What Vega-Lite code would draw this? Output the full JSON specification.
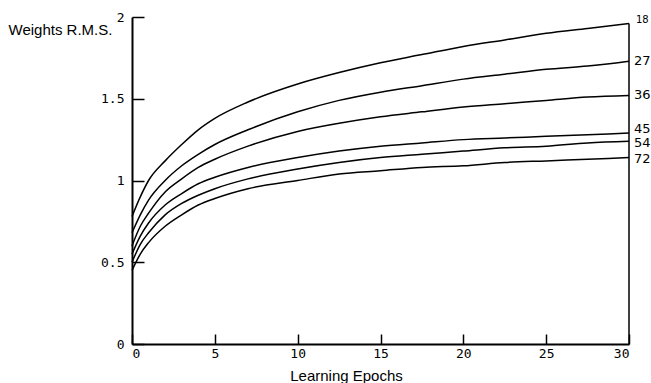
{
  "$schema": "https://vega.github.io/schema/vega-lite/v6.json",
  "width": 497,
  "height": 327,
  "autosize": {"type": "none"},
  "padding": {"left": 132, "top": 17, "right": 22, "bottom": 39},
  "background": "white",
  "config": {"view": {"stroke": null}},
  "datasets": {
    "curves": [
      {"epoch": 0, "w": 0.78, "units": "18"}, {"epoch": 0.5, "w": 0.9, "units": "18"}, {"epoch": 1, "w": 1.0, "units": "18"}, {"epoch": 2, "w": 1.12, "units": "18"}, {"epoch": 3, "w": 1.22, "units": "18"}, {"epoch": 4, "w": 1.31, "units": "18"}, {"epoch": 5, "w": 1.38, "units": "18"}, {"epoch": 7, "w": 1.48, "units": "18"}, {"epoch": 10, "w": 1.59, "units": "18"}, {"epoch": 12.5, "w": 1.66, "units": "18"}, {"epoch": 15, "w": 1.72, "units": "18"}, {"epoch": 17.5, "w": 1.77, "units": "18"}, {"epoch": 20, "w": 1.82, "units": "18"}, {"epoch": 22.5, "w": 1.86, "units": "18"}, {"epoch": 25, "w": 1.9, "units": "18"}, {"epoch": 27.5, "w": 1.93, "units": "18"}, {"epoch": 30, "w": 1.96, "units": "18"},
      {"epoch": 0, "w": 0.68, "units": "27"}, {"epoch": 0.5, "w": 0.79, "units": "27"}, {"epoch": 1, "w": 0.88, "units": "27"}, {"epoch": 2, "w": 1.0, "units": "27"}, {"epoch": 3, "w": 1.09, "units": "27"}, {"epoch": 4, "w": 1.16, "units": "27"}, {"epoch": 5, "w": 1.22, "units": "27"}, {"epoch": 7, "w": 1.31, "units": "27"}, {"epoch": 10, "w": 1.42, "units": "27"}, {"epoch": 12.5, "w": 1.49, "units": "27"}, {"epoch": 15, "w": 1.54, "units": "27"}, {"epoch": 17.5, "w": 1.58, "units": "27"}, {"epoch": 20, "w": 1.62, "units": "27"}, {"epoch": 22.5, "w": 1.65, "units": "27"}, {"epoch": 25, "w": 1.68, "units": "27"}, {"epoch": 27.5, "w": 1.7, "units": "27"}, {"epoch": 30, "w": 1.73, "units": "27"},
      {"epoch": 0, "w": 0.6, "units": "36"}, {"epoch": 0.5, "w": 0.72, "units": "36"}, {"epoch": 1, "w": 0.8, "units": "36"}, {"epoch": 2, "w": 0.93, "units": "36"}, {"epoch": 3, "w": 1.01, "units": "36"}, {"epoch": 4, "w": 1.08, "units": "36"}, {"epoch": 5, "w": 1.13, "units": "36"}, {"epoch": 7, "w": 1.21, "units": "36"}, {"epoch": 10, "w": 1.3, "units": "36"}, {"epoch": 12.5, "w": 1.35, "units": "36"}, {"epoch": 15, "w": 1.39, "units": "36"}, {"epoch": 17.5, "w": 1.42, "units": "36"}, {"epoch": 20, "w": 1.45, "units": "36"}, {"epoch": 22.5, "w": 1.47, "units": "36"}, {"epoch": 25, "w": 1.49, "units": "36"}, {"epoch": 27.5, "w": 1.51, "units": "36"}, {"epoch": 30, "w": 1.52, "units": "36"},
      {"epoch": 0, "w": 0.55, "units": "45"}, {"epoch": 0.5, "w": 0.66, "units": "45"}, {"epoch": 1, "w": 0.74, "units": "45"}, {"epoch": 2, "w": 0.85, "units": "45"}, {"epoch": 3, "w": 0.92, "units": "45"}, {"epoch": 4, "w": 0.98, "units": "45"}, {"epoch": 5, "w": 1.02, "units": "45"}, {"epoch": 7, "w": 1.08, "units": "45"}, {"epoch": 10, "w": 1.14, "units": "45"}, {"epoch": 12.5, "w": 1.18, "units": "45"}, {"epoch": 15, "w": 1.21, "units": "45"}, {"epoch": 17.5, "w": 1.23, "units": "45"}, {"epoch": 20, "w": 1.25, "units": "45"}, {"epoch": 22.5, "w": 1.26, "units": "45"}, {"epoch": 25, "w": 1.27, "units": "45"}, {"epoch": 27.5, "w": 1.28, "units": "45"}, {"epoch": 30, "w": 1.29, "units": "45"},
      {"epoch": 0, "w": 0.5, "units": "54"}, {"epoch": 0.5, "w": 0.61, "units": "54"}, {"epoch": 1, "w": 0.68, "units": "54"}, {"epoch": 2, "w": 0.79, "units": "54"}, {"epoch": 3, "w": 0.86, "units": "54"}, {"epoch": 4, "w": 0.91, "units": "54"}, {"epoch": 5, "w": 0.95, "units": "54"}, {"epoch": 7, "w": 1.01, "units": "54"}, {"epoch": 10, "w": 1.07, "units": "54"}, {"epoch": 12.5, "w": 1.11, "units": "54"}, {"epoch": 15, "w": 1.14, "units": "54"}, {"epoch": 17.5, "w": 1.16, "units": "54"}, {"epoch": 20, "w": 1.18, "units": "54"}, {"epoch": 22.5, "w": 1.2, "units": "54"}, {"epoch": 25, "w": 1.21, "units": "54"}, {"epoch": 27.5, "w": 1.23, "units": "54"}, {"epoch": 30, "w": 1.24, "units": "54"},
      {"epoch": 0, "w": 0.45, "units": "72"}, {"epoch": 0.5, "w": 0.55, "units": "72"}, {"epoch": 1, "w": 0.62, "units": "72"}, {"epoch": 2, "w": 0.72, "units": "72"}, {"epoch": 3, "w": 0.79, "units": "72"}, {"epoch": 4, "w": 0.85, "units": "72"}, {"epoch": 5, "w": 0.89, "units": "72"}, {"epoch": 7, "w": 0.95, "units": "72"}, {"epoch": 10, "w": 1.0, "units": "72"}, {"epoch": 12.5, "w": 1.04, "units": "72"}, {"epoch": 15, "w": 1.06, "units": "72"}, {"epoch": 17.5, "w": 1.08, "units": "72"}, {"epoch": 20, "w": 1.09, "units": "72"}, {"epoch": 22.5, "w": 1.11, "units": "72"}, {"epoch": 25, "w": 1.12, "units": "72"}, {"epoch": 27.5, "w": 1.13, "units": "72"}, {"epoch": 30, "w": 1.14, "units": "72"}
    ],
    "labels": [
      {"epoch": 30, "ly": 1.98, "units": "18"},
      {"epoch": 30, "ly": 1.73, "units": "27"},
      {"epoch": 30, "ly": 1.52, "units": "36"},
      {"epoch": 30, "ly": 1.315, "units": "45"},
      {"epoch": 30, "ly": 1.23, "units": "54"},
      {"epoch": 30, "ly": 1.13, "units": "72"}
    ],
    "border": [{"epoch": 30, "lo": 0, "hi": 1.96}]
  },
  "layer": [
    {
      "data": {"name": "curves"},
      "mark": {"type": "line", "color": "black", "strokeWidth": 1.5, "interpolate": "monotone"},
      "encoding": {
        "x": {
          "field": "epoch", "type": "quantitative",
          "scale": {"domain": [0, 30], "nice": false},
          "axis": {
            "values": [0, 5, 10, 15, 20, 25, 30],
            "grid": false,
            "domainColor": "black", "domainWidth": 2,
            "tickColor": "black", "tickWidth": 1.5, "tickSize": -10,
            "labelFont": "DejaVu Sans Mono", "labelFontSize": 13, "labelColor": "black",
            "labelPadding": 13,
            "title": "Learning Epochs",
            "titleFont": "Liberation Sans", "titleFontSize": 15, "titleFontWeight": "normal", "titleColor": "black",
            "titleX": 214, "titleY": 39, "titleBaseline": "bottom"
          }
        },
        "y": {
          "field": "w", "type": "quantitative",
          "scale": {"domain": [0, 2], "nice": false},
          "axis": {
            "values": [0, 0.5, 1, 1.5, 2],
            "format": "~g",
            "grid": false,
            "domainColor": "black", "domainWidth": 2,
            "tickColor": "black", "tickWidth": 1.5, "tickSize": -12,
            "labelFont": "DejaVu Sans Mono", "labelFontSize": 13, "labelColor": "black",
            "labelPadding": 20,
            "title": "Weights R.M.S.",
            "titleFont": "Liberation Sans", "titleFontSize": 15, "titleFontWeight": "normal", "titleColor": "black",
            "titleAngle": 0, "titleAlign": "left", "titleBaseline": "alphabetic",
            "titleX": -124, "titleY": 17
          }
        },
        "detail": {"field": "units", "type": "nominal"}
      }
    },
    {
      "data": {"name": "border"},
      "mark": {"type": "rule", "color": "black", "strokeWidth": 1.5},
      "encoding": {
        "x": {"field": "epoch", "type": "quantitative"},
        "y": {"field": "lo", "type": "quantitative"},
        "y2": {"field": "hi"}
      }
    },
    {
      "data": {"name": "labels"},
      "transform": [{"filter": "datum.units != '18'"}],
      "mark": {"type": "text", "align": "left", "baseline": "middle", "dx": 5, "font": "DejaVu Sans", "fontSize": 13, "color": "black"},
      "encoding": {
        "x": {"field": "epoch", "type": "quantitative"},
        "y": {"field": "ly", "type": "quantitative"},
        "text": {"field": "units", "type": "nominal"}
      }
    },
    {
      "data": {"name": "labels"},
      "transform": [{"filter": "datum.units == '18'"}],
      "mark": {"type": "text", "align": "left", "baseline": "middle", "dx": 7, "font": "DejaVu Sans", "fontSize": 10, "color": "black"},
      "encoding": {
        "x": {"field": "epoch", "type": "quantitative"},
        "y": {"field": "ly", "type": "quantitative"},
        "text": {"field": "units", "type": "nominal"}
      }
    }
  ]
}
